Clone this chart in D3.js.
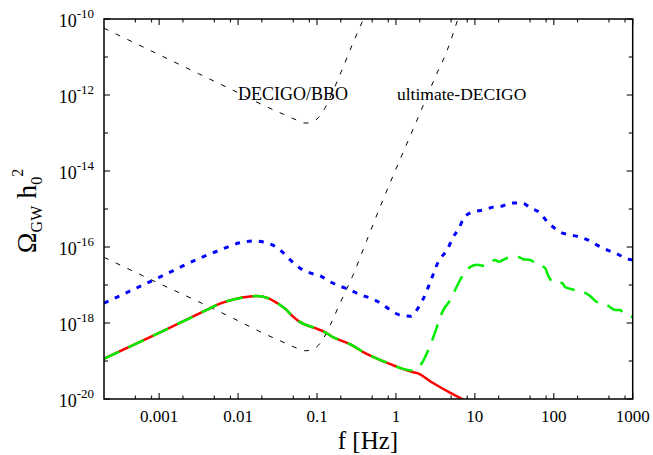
<!DOCTYPE html>
<html>
<head>
<meta charset="utf-8">
<script src="https://cdn.jsdelivr.net/npm/d3@7"></script>
<style>
  body { margin: 0; background: #fff; }
  text { font-family: "Liberation Serif", "Times New Roman", serif; fill: #000; }
</style>
</head>
<body>
<div id="canvas"></div>
<script>
// values, as log10(f [Hz]) and log10(Omega_GW h0^2)
var decigoLogF = [-3.70, -3.0, -2.5, -2.0, -1.7, -1.4, -1.22, -1.15, -1.08, -1.0, -0.92, -0.82, -0.7, -0.55, -0.4];
var decigoLogOmega = [-10.24, -10.94, -11.44, -11.94, -12.25, -12.53, -12.69, -12.74, -12.72, -12.63, -12.42, -12.0, -11.42, -10.66, -9.95];

var ultimateLogF = [-3.70, -3.0, -2.5, -2.0, -1.7, -1.4, -1.22, -1.15, -1.08, -1.0, -0.92, -0.82, -0.7, -0.55, -0.37, -0.18, 0.0, 0.3, 0.5, 0.65, 0.8];
var ultimateLogOmega = [-16.27, -16.96, -17.44, -17.94, -18.25, -18.53, -18.69, -18.73, -18.71, -18.62, -18.41, -18.0, -17.44, -16.77, -15.83, -14.84, -13.95, -12.5, -11.52, -10.82, -9.9];

var blueLogF = [-3.70, -3.0, -2.48, -2.23, -1.98, -1.81, -1.68, -1.56, -1.44, -1.34, -1.22, -1.09, -0.96, -0.83, -0.71, -0.58, -0.45, -0.33, -0.2, -0.07, 0.05, 0.18, 0.28, 0.34, 0.43, 0.53, 0.66, 0.72, 0.8, 0.86, 0.97, 1.1, 1.23, 1.35, 1.47, 1.6, 1.7, 1.83, 1.92, 1.99, 2.08, 2.21, 2.33, 2.46, 2.55, 2.68, 2.8, 2.94, 3.0];
var blueLogOmega = [-17.48, -16.80, -16.29, -16.08, -15.89, -15.84, -15.87, -15.95, -16.13, -16.34, -16.55, -16.68, -16.76, -16.92, -17.03, -17.13, -17.26, -17.34, -17.47, -17.66, -17.79, -17.82, -17.61, -17.39, -16.95, -16.42, -16.03, -15.76, -15.5, -15.24, -15.08, -15.03, -14.95, -14.92, -14.84, -14.84, -14.97, -15.11, -15.34, -15.47, -15.61, -15.68, -15.74, -15.84, -15.95, -16.08, -16.18, -16.32, -16.34];

var redLogF = [-3.70, -3.0, -2.39, -2.23, -2.06, -1.85, -1.76, -1.63, -1.51, -1.40, -1.34, -1.22, -1.03, -0.9, -0.8, -0.71, -0.61, -0.52, -0.42, -0.29, -0.11, 0.05, 0.21, 0.27, 0.47, 0.69, 0.84, 0.9];
var redLogOmega = [-18.94, -18.26, -17.65, -17.49, -17.38, -17.30, -17.29, -17.34, -17.47, -17.63, -17.76, -17.97, -18.13, -18.24, -18.37, -18.45, -18.53, -18.63, -18.76, -18.89, -19.05, -19.18, -19.29, -19.32, -19.58, -19.84, -20.0, -20.08];

var greenLogF = [-3.70, -3.0, -2.39, -2.23, -2.06, -1.85, -1.76, -1.63, -1.51, -1.40, -1.34, -1.22, -1.03, -0.9, -0.8, -0.71, -0.61, -0.52, -0.42, -0.29, -0.11, 0.05, 0.2, 0.31, 0.46, 0.6, 0.69, 0.75, 0.85, 0.94, 1.03, 1.13, 1.26, 1.3, 1.41, 1.55, 1.61, 1.7, 1.8, 1.89, 1.93, 2.02, 2.11, 2.14, 2.27, 2.4, 2.46, 2.55, 2.63, 2.71, 2.78, 2.84, 2.88, 3.0];
var greenLogOmega = [-18.94, -18.26, -17.65, -17.49, -17.38, -17.30, -17.29, -17.34, -17.47, -17.63, -17.76, -17.97, -18.13, -18.24, -18.37, -18.45, -18.53, -18.63, -18.76, -18.89, -19.05, -19.18, -19.25, -19.11, -18.45, -17.66, -17.39, -17.13, -16.74, -16.53, -16.47, -16.5, -16.34, -16.39, -16.29, -16.26, -16.32, -16.34, -16.47, -16.55, -16.76, -16.95, -16.95, -17.05, -17.13, -17.21, -17.29, -17.45, -17.47, -17.58, -17.66, -17.66, -17.74, -17.84];

var xTicks = [0.001, 0.01, 0.1, 1, 10, 100, 1000];
var xTickLabels = ["0.001", "0.01", "0.1", "1", "10", "100", "1000"];
var yTickExponents = [-10, -12, -14, -16, -18, -20];
var yMinorExponents = [-11, -13, -15, -17, -19];
var xMinorMantissas = [2, 5, 8];

var W = 653, H = 455;
var pLeft = 104, pRight = 632.7, pTop = 19, pBottom = 399;

var svg = d3.select("#canvas").append("svg")
    .attr("width", W)
    .attr("height", H);

var x = d3.scaleLog().domain([2e-4, 1000]).range([pLeft, pRight]);
var y = d3.scaleLog().domain([1e-20, 1e-10]).range([pBottom, pTop]);

svg.append("clipPath").attr("id", "plotclip")
    .append("rect")
    .attr("x", pLeft).attr("y", pTop)
    .attr("width", pRight - pLeft).attr("height", pBottom - pTop);

function pts(lf, lo) {
    return lf.map(function(v, i) { return [Math.pow(10, v), Math.pow(10, lo[i])]; });
}

var line = d3.line()
    .x(function(d) { return x(d[0]); })
    .y(function(d) { return y(d[1]); })
    .curve(d3.curveMonotoneX);

var series = [
    { data: pts(decigoLogF, decigoLogOmega), color: "#000", w: 1, dash: "5,8" },
    { data: pts(ultimateLogF, ultimateLogOmega), color: "#000", w: 1, dash: "5,8" },
    { data: pts(blueLogF, blueLogOmega), color: "#0000ff", w: 3, dash: "5,7" },
    { data: pts(redLogF, redLogOmega), color: "#ff0000", w: 2.5, dash: null },
    { data: pts(greenLogF, greenLogOmega), color: "#00ee00", w: 2.5, dash: "17,10" }
];

svg.append("g").attr("clip-path", "url(#plotclip)")
    .selectAll("path")
    .data(series)
    .enter()
    .append("path")
    .attr("d", function(d) { return line(d.data); })
    .attr("fill", "none")
    .attr("stroke", function(d) { return d.color; })
    .attr("stroke-width", function(d) { return d.w; })
    .attr("stroke-dasharray", function(d) { return d.dash; });

// ticks, all pointing inward on the four sides
var ticks = svg.append("g").attr("stroke", "#222").attr("stroke-width", 1.2);

var xMinor = [];
[-4, -3, -2, -1, 0, 1, 2].forEach(function(e) {
    xMinorMantissas.forEach(function(m) {
        var v = m * Math.pow(10, e);
        if (v > 2.01e-4 && v < 1000) xMinor.push(v);
    });
});

xTicks.forEach(function(v) {
    ticks.append("line").attr("x1", x(v)).attr("x2", x(v)).attr("y1", pBottom).attr("y2", pBottom - 6);
    ticks.append("line").attr("x1", x(v)).attr("x2", x(v)).attr("y1", pTop).attr("y2", pTop + 6);
});
xMinor.forEach(function(v) {
    ticks.append("line").attr("x1", x(v)).attr("x2", x(v)).attr("y1", pBottom).attr("y2", pBottom - 3.5);
    ticks.append("line").attr("x1", x(v)).attr("x2", x(v)).attr("y1", pTop).attr("y2", pTop + 3.5);
});
yTickExponents.forEach(function(e) {
    var yy = y(Math.pow(10, e));
    ticks.append("line").attr("x1", pLeft).attr("x2", pLeft + 6).attr("y1", yy).attr("y2", yy);
    ticks.append("line").attr("x1", pRight).attr("x2", pRight - 6).attr("y1", yy).attr("y2", yy);
});
yMinorExponents.forEach(function(e) {
    var yy = y(Math.pow(10, e));
    ticks.append("line").attr("x1", pLeft).attr("x2", pLeft + 4).attr("y1", yy).attr("y2", yy);
    ticks.append("line").attr("x1", pRight).attr("x2", pRight - 4).attr("y1", yy).attr("y2", yy);
});

svg.append("rect")
    .attr("x", pLeft).attr("y", pTop)
    .attr("width", pRight - pLeft).attr("height", pBottom - pTop)
    .attr("fill", "none")
    .attr("stroke", "#000")
    .attr("stroke-width", 1.5);

// tick labels
svg.append("g").selectAll("text")
    .data(xTicks)
    .enter()
    .append("text")
    .attr("x", function(d) { return x(d); })
    .attr("y", 422)
    .attr("text-anchor", "middle")
    .style("font-size", "17px")
    .text(function(d, i) { return xTickLabels[i]; });

var ylab = svg.append("g").selectAll("text")
    .data(yTickExponents)
    .enter()
    .append("text")
    .attr("x", 94)
    .attr("y", function(d) { return y(Math.pow(10, d)) + 7.5; })
    .attr("text-anchor", "end")
    .style("font-size", "18px");
ylab.append("tspan").text("10");
ylab.append("tspan")
    .attr("dy", -8.5)
    .style("font-size", "13px")
    .text(function(d) { return "-" + Math.abs(d); });

// curve labels
svg.append("text").attr("x", 238).attr("y", 100)
    .style("font-size", "18px").text("DECIGO/BBO");
svg.append("text").attr("x", 397).attr("y", 100)
    .style("font-size", "17.5px").text("ultimate-DECIGO");

// axis titles
svg.append("text")
    .attr("x", 368).attr("y", 449)
    .attr("text-anchor", "middle")
    .style("font-size", "25px")
    .text("f [Hz]");

var yt = svg.append("text")
    .attr("transform", "translate(36,211) rotate(-90)")
    .attr("text-anchor", "middle")
    .style("font-size", "28px");
yt.append("tspan").text("\u03A9");
yt.append("tspan").attr("dy", 6).style("font-size", "16px").text("GW");
yt.append("tspan").attr("dy", -6).text(" h");
yt.append("tspan").attr("dy", 6).style("font-size", "16px").text("0");
yt.append("tspan").attr("dy", -19).style("font-size", "16px").text("2");
</script>
</body>
</html>
